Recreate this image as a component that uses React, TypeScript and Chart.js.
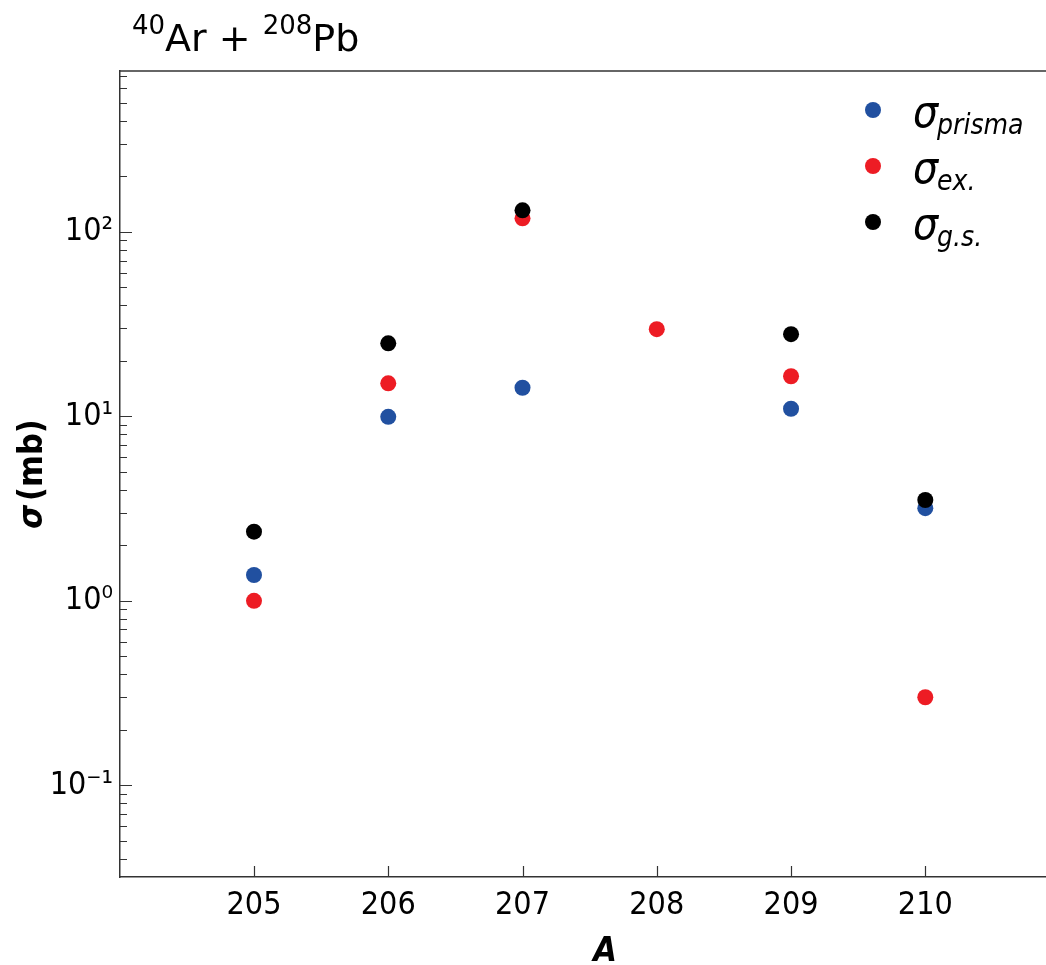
import React, { useEffect, useRef } from 'react';
import { Chart, registerables } from 'chart.js';

Chart.register(...registerables);

const massNumbers = [205, 206, 207, 208, 209, 210];
const sigmaPrisma = [1.38, 9.95, 14.3, null, 11.0, 3.18];
const sigmaEx = [1.0, 15.1, 118.5, 29.7, 16.5, 0.3];
const sigmaGs = [2.37, 24.9, 131, null, 27.9, 3.52];

const xTickValues = [205, 206, 207, 208, 209, 210];
const yMajorTicks = [0.1, 1, 10, 100];
const yMajorLabels = ['10⁻¹', '10⁰', '10¹', '10²'];
const yMinorMultipliers = [2, 3, 4, 5, 6, 7, 8, 9];
const yDecades = [0.01, 0.1, 1, 10, 100];

const X_MIN = 204.002;
const X_MAX = 210.899;
const Y_MIN = 0.0318;
const Y_MAX = 746;

const FONT = "'DejaVu Sans Condensed', 'DejaVu Sans', sans-serif";
const TITLE_FONT = "'DejaVu Sans', sans-serif";
const AXIS_COLOR = '#333333';
const BLUE = '#2150A0';
const RED = '#ED1C24';
const BLACK = '#000000';

const legendItems = [
  { color: BLUE, sub: 'prisma' },
  { color: RED, sub: 'ex.' },
  { color: BLACK, sub: 'g.s.' },
];

function toPoints(values: (number | null)[]) {
  return massNumbers
    .map((x, i) => ({ x, y: values[i] }))
    .filter((p) => p.y !== null) as { x: number; y: number }[];
}

function allYTicks(): number[] {
  const out: number[] = [];
  yDecades.forEach((d) => {
    if (d >= Y_MIN && d <= Y_MAX) out.push(d);
    yMinorMultipliers.forEach((m) => {
      const v = m * d;
      if (v >= Y_MIN && v <= Y_MAX) out.push(v);
    });
  });
  return out.sort((a, b) => a - b);
}

function isMajor(v: number) {
  return yMajorTicks.some((m) => Math.abs(m - v) / m < 1e-6);
}

const decorPlugin = {
  id: 'decor',
  afterDraw(chart: any) {
    const ctx = chart.ctx as CanvasRenderingContext2D;
    const { left, right, top, bottom } = chart.chartArea;
    const xs = chart.scales.x;
    const ys = chart.scales.y;
    ctx.save();

    // top border
    ctx.strokeStyle = AXIS_COLOR;
    ctx.lineWidth = 1.5;
    ctx.beginPath();
    ctx.moveTo(left, top);
    ctx.lineTo(right, top);
    ctx.stroke();

    // inward ticks
    ctx.lineWidth = 1.2;
    ctx.beginPath();
    ys.ticks.forEach((t: any) => {
      const y = Math.round(ys.getPixelForValue(t.value)) + 0.5;
      const len = isMajor(t.value) ? 12 : 7;
      ctx.moveTo(left, y);
      ctx.lineTo(left + len, y);
    });
    xs.ticks.forEach((t: any) => {
      const x = Math.round(xs.getPixelForValue(t.value)) + 0.5;
      ctx.moveTo(x, bottom);
      ctx.lineTo(x, bottom - 11);
    });
    ctx.stroke();

    // title with superscripts
    ctx.fillStyle = '#000';
    ctx.textBaseline = 'alphabetic';
    ctx.textAlign = 'left';
    let x = 132;
    const base = 51;
    const parts: [string, number, number][] = [
      ['40', 26, base - 17],
      ['Ar + ', 38, base],
      ['208', 26, base - 17],
      ['Pb', 38, base],
    ];
    parts.forEach(([txt, size, y]) => {
      ctx.font = `${size}px ${TITLE_FONT}`;
      ctx.fillText(txt, x, y);
      x += ctx.measureText(txt).width;
    });

    // legend
    legendItems.forEach((it, i) => {
      const cy = 110 + i * 56;
      ctx.fillStyle = it.color;
      ctx.beginPath();
      ctx.arc(873, cy, 8, 0, Math.PI * 2);
      ctx.fill();
      ctx.fillStyle = '#000';
      ctx.font = `italic 44px ${FONT}`;
      ctx.fillText('σ', 913, cy + 17);
      const w = ctx.measureText('σ').width;
      ctx.font = `italic 28px ${FONT}`;
      ctx.fillText(it.sub, 912 + w, cy + 24);
    });

    // y axis title
    ctx.save();
    ctx.translate(42, (top + bottom) / 2);
    ctx.rotate(-Math.PI / 2);
    ctx.font = `bold italic 34px ${FONT}`;
    const s1 = 'σ';
    const w1 = ctx.measureText(s1).width;
    ctx.font = `bold 34px ${FONT}`;
    const s2 = '(mb)';
    const w2 = ctx.measureText(s2).width;
    const gap = 4;
    const total = w1 + gap + w2;
    ctx.font = `bold italic 34px ${FONT}`;
    ctx.fillText(s1, -total / 2, 0);
    ctx.font = `bold 34px ${FONT}`;
    ctx.fillText(s2, -total / 2 + w1 + gap, 0);
    ctx.restore();

    // x axis title
    ctx.font = `bold italic 34px ${FONT}`;
    ctx.textAlign = 'center';
    ctx.fillText('A', 605, 961);

    ctx.restore();
  },
};

export default function App() {
  const ref = useRef<HTMLCanvasElement | null>(null);

  useEffect(() => {
    if (!ref.current) return;
    const yTicks = allYTicks();
    const chart = new Chart(ref.current, {
      type: 'scatter',
      data: {
        datasets: [
          {
            label: 'σ g.s.',
            data: toPoints(sigmaGs),
            backgroundColor: BLACK,
            borderColor: BLACK,
            pointRadius: 8,
            borderWidth: 0,
            order: 0,
          },
          {
            label: 'σ ex.',
            data: toPoints(sigmaEx),
            backgroundColor: RED,
            borderColor: RED,
            pointRadius: 8,
            borderWidth: 0,
            order: 1,
          },
          {
            label: 'σ prisma',
            data: toPoints(sigmaPrisma),
            backgroundColor: BLUE,
            borderColor: BLUE,
            pointRadius: 8,
            borderWidth: 0,
            order: 2,
          },
        ],
      },
      options: {
        responsive: false,
        animation: false,
        layout: { autoPadding: false, padding: { top: 71, left: 0, right: 0, bottom: 0 } },
        plugins: {
          legend: { display: false },
          title: { display: false },
          tooltip: { enabled: false },
        },
        scales: {
          x: {
            type: 'linear',
            min: X_MIN,
            max: X_MAX,
            afterBuildTicks: (scale: any) => {
              scale.ticks = xTickValues.map((v) => ({ value: v }));
            },
            afterFit: (scale: any) => {
              scale.height = 88;
            },
            grid: { display: true, drawOnChartArea: false, drawTicks: false },
            border: { display: true, color: AXIS_COLOR, width: 1.5 },
            ticks: {
              autoSkip: false,
              maxRotation: 0,
              padding: 9,
              color: '#000',
              font: { family: FONT, size: 32 },
              callback: (v: any) => String(v),
            },
          },
          y: {
            type: 'logarithmic',
            min: Y_MIN,
            max: Y_MAX,
            afterBuildTicks: (scale: any) => {
              scale.ticks = yTicks.map((v) => ({ value: v, major: isMajor(v) }));
            },
            afterFit: (scale: any) => {
              scale.width = 120;
            },
            grid: { display: true, drawOnChartArea: false, drawTicks: false },
            border: { display: true, color: AXIS_COLOR, width: 1.5 },
            ticks: {
              autoSkip: false,
              padding: 7,
              color: '#000',
              font: { family: FONT, size: 32 },
              callback: (v: any) => {
                const idx = yMajorTicks.findIndex((m) => Math.abs(m - v) / m < 1e-6);
                return idx >= 0 ? yMajorLabels[idx] : '';
              },
            },
          },
        },
      },
      plugins: [decorPlugin],
    });
    return () => chart.destroy();
  }, []);

  return (
    <div style={{ position: 'absolute', left: 0, top: 0, width: 1046, height: 965, background: '#fff' }}>
      <canvas ref={ref} width={1046} height={965} style={{ display: 'block' }} />
    </div>
  );
}
